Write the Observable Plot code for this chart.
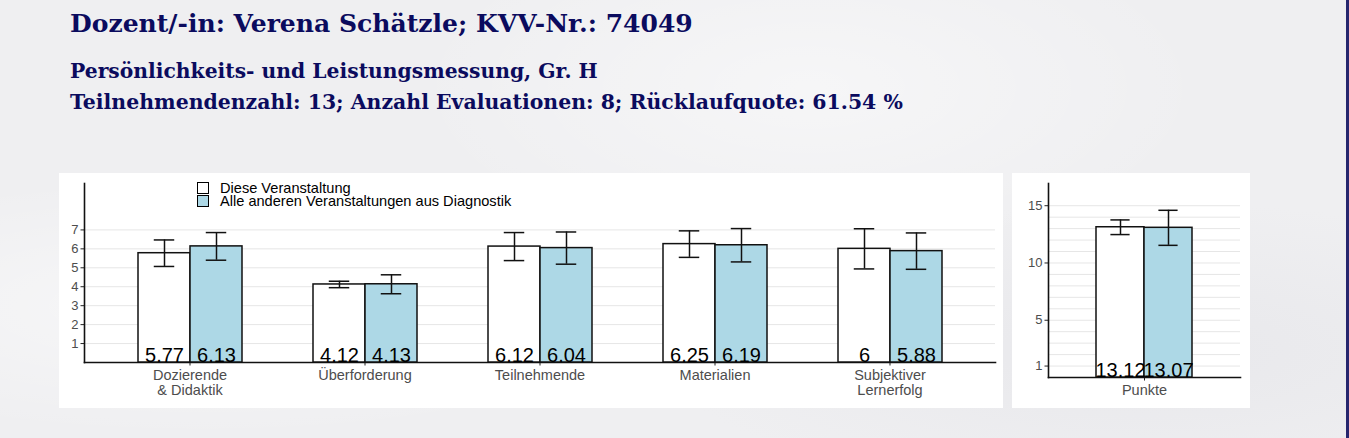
<!DOCTYPE html>
<html><head><meta charset="utf-8">
<script src="https://cdn.jsdelivr.net/npm/d3@7"></script>
<script src="https://cdn.jsdelivr.net/npm/@observablehq/plot@0.6"></script>
<style>
html,body{margin:0;padding:0}
body{width:1349px;height:438px;overflow:hidden;position:relative;
  background:
    radial-gradient(ellipse at 15% 70%,rgba(255,255,255,0.5) 0%,rgba(255,255,255,0) 30%),
    radial-gradient(ellipse at 60% 20%,rgba(255,255,255,0.45) 0%,rgba(255,255,255,0) 35%),
    radial-gradient(ellipse at 85% 80%,rgba(225,225,230,0.5) 0%,rgba(225,225,230,0) 30%),
    #efeff1;
  font-family:"Liberation Sans",Arial,sans-serif}
.t{position:absolute;left:70px;color:#0b0b5e;font-family:"DejaVu Serif","Liberation Serif",serif;font-weight:bold;white-space:nowrap;line-height:1}
.panel{position:absolute;background:#fff}
.panel svg{position:absolute;left:0;top:0}
.edge{position:absolute;left:1346px;top:0;width:3px;height:438px;background:#26266e}
.leg{position:absolute;left:197px;top:181px;font-size:14.6px;line-height:14px;color:#000}
.leg div{position:relative;padding-left:23px;white-space:nowrap;height:13.4px;line-height:14px}
.leg span{position:absolute;left:0;top:1px;width:10px;height:10px;border:1.4px solid #000}
</style></head><body>
<div class="t" id="t1" style="top:11px;font-size:22px">Dozent/-in: Verena Schätzle; KVV-Nr.: 74049</div>
<div class="t" id="t2" style="top:61px;font-size:17px">Persönlichkeits- und Leistungsmessung, Gr. H</div>
<div class="t" id="t3" style="top:92px;font-size:17px">Teilnehmendenzahl: 13; Anzahl Evaluationen: 8; Rücklaufquote: 61.54 %</div>
<div class="panel" id="left" style="left:59px;top:173px;width:944px;height:235px"></div>
<div class="panel" id="right" style="left:1012px;top:173px;width:238px;height:235px"></div>
<div class="edge"></div>
<script>
// ---- data ----
const categories = ["Dozierende\n& Didaktik", "Überforderung", "Teilnehmende", "Materialien", "Subjektiver\nLernerfolg"];
const series = ["Diese Veranstaltung", "Alle anderen Veranstaltungen aus Diagnostik"];
const seriesColors = ["#ffffff", "#add8e6"];
const thisMeans = [5.77, 4.12, 6.12, 6.25, 6];
const otherMeans = [6.13, 4.13, 6.04, 6.19, 5.88];
const thisErr = [0.70, 0.17, 0.74, 0.70, 1.06];
const otherErr = [0.73, 0.50, 0.85, 0.88, 0.96];
const leftTicks = [1, 2, 3, 4, 5, 6, 7];
const punkteCategory = ["Punkte"];
const punkteMeans = [13.12, 13.07];
const punkteErr = [0.64, 1.53];
const rightTicks = [1, 5, 10, 15];
const rightGrid = [1, 2, 3, 4, 5, 6, 7, 8, 9, 10, 11, 12, 13, 14, 15];

// fit title widths
[["t1", 623], ["t2", 528], ["t3", 833]].forEach(([id, w]) => {
  const el = document.getElementById(id);
  const fs = parseFloat(el.style.fontSize);
  el.style.fontSize = (fs * w / el.scrollWidth) + "px";
});

const rowsLeft = [];
categories.forEach((c, i) => {
  rowsLeft.push({cat: c, series: series[0], mean: thisMeans[i], err: thisErr[i]});
  rowsLeft.push({cat: c, series: series[1], mean: otherMeans[i], err: otherErr[i]});
});
const rowsRight = series.map((s, j) => ({cat: punkteCategory[0], series: s, mean: punkteMeans[j], err: punkteErr[j]}));

function makePanel(el, rows, cats, opts) {
  const {width, height, mL, mR, mT, mB, yMax, ticks, grid} = opts;
  const step = (width - mL - mR) / (cats.length - 0.4 + 0.6);
  const barW = step * 0.3;
  const capInset = barW * 0.3;
  const common = {width, height, marginLeft: mL, marginRight: mR, marginTop: mT, marginBottom: mB};
  const bg = Plot.plot({
    ...common,
    style: {background: "transparent", fontFamily: "Liberation Sans, Arial, sans-serif", overflow: "visible"},
    x: {type: "band", domain: cats, paddingInner: 0.4, paddingOuter: 0.3, align: 0.5},
    y: {domain: [0, yMax]},
    marks: [
      Plot.gridY(grid, {stroke: "#e6e6e6", strokeOpacity: 1, strokeWidth: 1}),
      Plot.axisY(ticks, {tickSize: 3.5, tickPadding: 2.5, stroke: "#222", fill: "#4d4d4d", fontSize: 13, label: null}),
      Plot.axisX({tickSize: 3.5, tickPadding: 4, stroke: "#222", fill: "#4d4d4d", fontSize: 14.5, label: null}),
      Plot.frame({anchor: "left", stroke: "#111", strokeWidth: 1.6}),
      Plot.frame({anchor: "bottom", stroke: "#111", strokeWidth: 1.6})
    ]
  });
  const fg = Plot.plot({
    ...common,
    style: {background: "transparent", fontFamily: "Liberation Sans, Arial, sans-serif", overflow: "visible"},
    fx: {domain: cats, paddingInner: 0.4, paddingOuter: 0.3, align: 0.5, axis: null, label: null},
    x: {domain: series, padding: 0, axis: null},
    y: {domain: [0, yMax], axis: null},
    color: {domain: series, range: seriesColors},
    marks: [
      Plot.barY(rows, {fx: "cat", x: "series", y: "mean", fill: "series", stroke: "#111", strokeWidth: 1.5}),
      Plot.ruleX(rows, {fx: "cat", x: "series", y1: d => d.mean - d.err, y2: d => d.mean + d.err, stroke: "#111", strokeWidth: 1.5}),
      Plot.tickY(rows, {fx: "cat", x: "series", y: d => d.mean - d.err, insetLeft: capInset, insetRight: capInset, stroke: "#111", strokeWidth: 1.5}),
      Plot.tickY(rows, {fx: "cat", x: "series", y: d => d.mean + d.err, insetLeft: capInset, insetRight: capInset, stroke: "#111", strokeWidth: 1.5}),
      Plot.text(rows, {fx: "cat", x: "series", y: 0, text: d => String(d.mean), lineAnchor: "bottom", dy: -1, fontSize: 20, fill: "#000"})
    ]
  });
  el.append(bg, fg);
}

makePanel(document.getElementById("left"), rowsLeft, categories,
  {width: 944, height: 235, mL: 25, mR: 8, mT: 10, mB: 46, yMax: 9.45, ticks: leftTicks, grid: leftTicks});
makePanel(document.getElementById("right"), rowsRight, punkteCategory,
  {width: 238, height: 235, mL: 36, mR: 10, mT: 10, mB: 31, yMax: 16.94, ticks: rightTicks, grid: rightGrid});

// legend
const leg = document.createElement("div");
leg.className = "leg";
series.forEach((s, i) => {
  const row = document.createElement("div");
  const sw = document.createElement("span");
  sw.style.background = seriesColors[i];
  row.append(sw, document.createTextNode(s));
  leg.append(row);
});
document.body.append(leg);
</script>
</body></html>
